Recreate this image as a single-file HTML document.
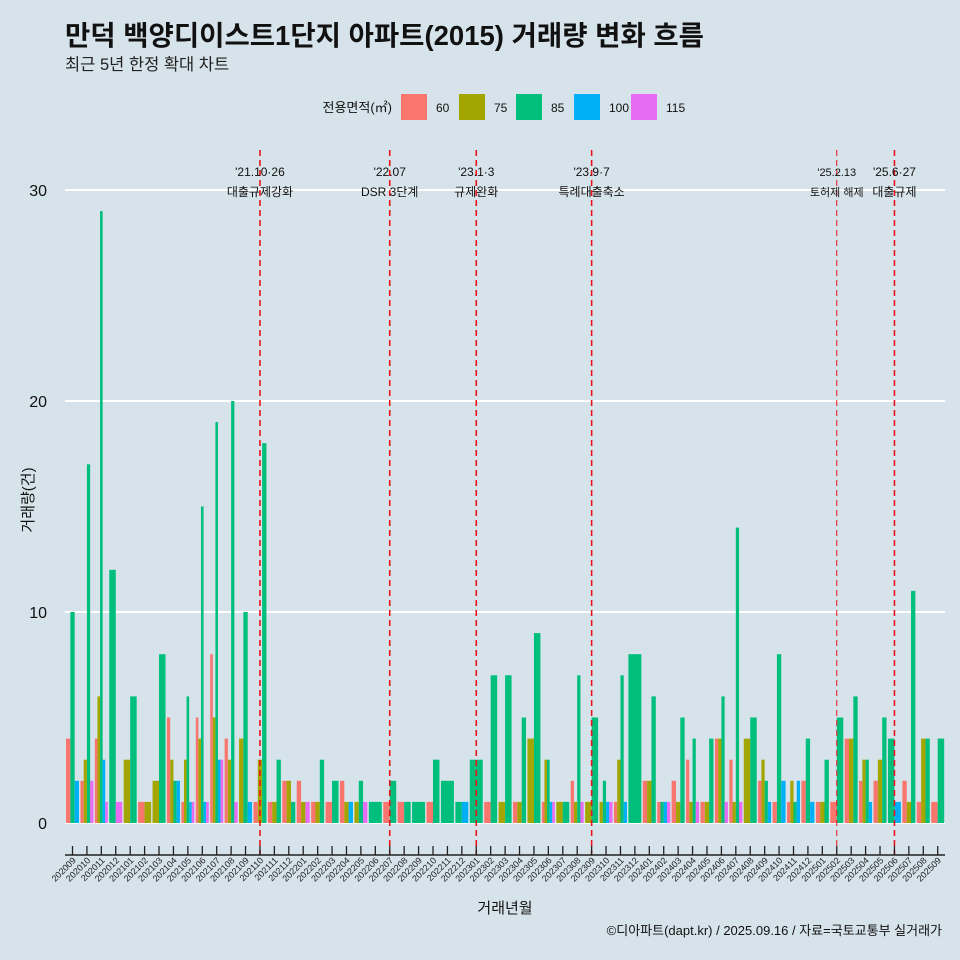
<!DOCTYPE html>
<html><head><meta charset="utf-8"><style>
html,body{margin:0;width:960px;height:960px;overflow:hidden;background:#d6e3ea;font-family:"Liberation Sans","Noto Sans CJK KR",sans-serif}
svg{display:block}
svg text{font-family:"Liberation Sans","Noto Sans CJK KR",sans-serif}
</style></head><body>
<svg width="960" height="960" xmlns="http://www.w3.org/2000/svg">
<rect width="960" height="960" fill="#d6e3ea"/>
<text x="65" y="45" font-size="27.5" font-weight="bold" fill="#111">만덕 백양디이스트1단지 아파트(2015) 거래량 변화 흐름</text>
<text x="65" y="70" font-size="16.5" fill="#222">최근 5년 한정 확대 차트</text>
<g id="legend"></g>
<g id="grid"></g><g id="bars"></g><g id="events"></g><g id="xaxis"></g><g id="yaxis"></g>
<text x="505" y="913" font-size="15" text-anchor="middle" fill="#111">거래년월</text>
<text transform="translate(33,500) rotate(-90)" font-size="15" text-anchor="middle" fill="#111">거래량(건)</text>
<text x="942" y="935" font-size="13" text-anchor="end" fill="#111">©디아파트(dapt.kr) / 2025.09.16 / 자료=국토교통부 실거래가</text>
</svg>
<script>
const months=["202009","202010","202011","202012","202101","202102","202103","202104","202105","202106","202107","202108","202109","202110","202111","202112","202201","202202","202203","202204","202205","202206","202207","202208","202209","202210","202211","202212","202301","202302","202303","202304","202305","202306","202307","202308","202309","202310","202311","202312","202401","202402","202403","202404","202405","202406","202407","202408","202409","202410","202411","202412","202501","202502","202503","202504","202505","202506","202507","202508","202509"];
const areas=["60","75","85","100","115"];
const colors=["#f8766d","#a3a500","#00bf7d","#00b0f6","#e76bf3"];
const s60 =[4,2,4,0,0,1,0,5,1,5,8,4,0,1,1,2,2,1,1,2,0,0,1,1,0,1,0,0,0,1,0,1,0,1,0,2,0,0,1,0,2,1,2,3,1,4,3,0,2,1,1,2,1,1,4,2,2,0,2,1,1];
const s75 =[0,3,6,0,3,1,2,3,3,4,5,3,4,3,1,2,1,1,0,1,1,0,0,0,0,0,0,0,0,0,1,1,4,3,1,1,1,1,3,0,2,0,1,1,1,4,1,4,3,0,2,0,1,0,4,3,3,0,1,4,0];
const s85 =[10,17,29,12,6,0,8,2,6,15,19,20,10,18,3,1,0,3,2,0,2,1,2,1,1,3,2,1,3,7,7,5,9,3,1,7,5,2,7,8,6,1,5,4,4,6,14,5,2,8,1,4,3,5,6,3,5,4,11,4,4];
const s100=[2,0,3,0,0,0,0,2,1,1,3,0,1,0,0,0,0,0,0,1,0,0,0,0,0,0,0,1,0,0,0,0,0,1,0,0,0,1,1,0,0,1,0,0,0,0,0,0,1,2,2,1,0,0,0,1,0,1,0,0,0];
const s115=[0,2,1,1,0,0,0,0,1,1,3,1,0,0,0,0,1,0,0,0,1,0,0,0,0,0,0,0,0,0,0,0,0,1,0,1,0,1,0,0,0,1,0,1,0,1,1,0,0,0,0,0,0,0,0,0,0,0,0,0,0];
const yTicks=[0,10,20,30];
const events=["202110","202207","202301","202309","202502","202506"];
const eventLine1=["'21.10·26","'22.07","'23.1·3","'23.9·7","'25.2.13","'25.6·27"];
const eventLine2=["대출규제강화","DSR 3단계","규제완화","특례대출축소","토허제 해제","대출규제"];
const NS="http://www.w3.org/2000/svg";
const X0=72.5,DX=14.42,Y0=823,PU=21.1;
const xs=i=>X0+i*DX, ys=v=>Y0-v*PU;
function mk(t,a,p){const e=document.createElementNS(NS,t);for(const k in a)e.setAttribute(k,a[k]);p.appendChild(e);return e;}
const grid=document.getElementById('grid'),yax=document.getElementById('yaxis');
yTicks.forEach(v=>{
 const l=mk('line',{x1:65,x2:945,y1:ys(v),y2:ys(v),stroke:'#fff','stroke-width':2},grid);
 
 
 const t=mk('text',{x:47,y:ys(v)+6,'font-size':16,'text-anchor':'end',fill:'#111'},yax);
 t.textContent=v;
 
 
});
const series=[s60,s75,s85,s100,s115];
const bars=document.getElementById('bars');
months.forEach((m,i)=>{
 const present=[];series.forEach((s,k)=>{if(s[i]>0)present.push(k);});
 const W=DX*0.9,bw=W/present.length;
 present.forEach((k,j)=>{
  const v=series[k][i];
  const r=mk('rect',{x:xs(i)-W/2+j*bw,y:ys(v),width:bw,height:v*PU,fill:colors[k]},bars);
  
  
 });
});
const ev=document.getElementById('events');
events.forEach((m,k)=>{
 const x=xs(months.indexOf(m));
 const thin=m==="202502";
 const l=mk('line',{x1:x,x2:x,y1:150,y2:855,stroke:'#e8141c','stroke-width':thin?1:1.6,'stroke-dasharray':'6,4'},ev);
 
 
 const fs=thin?11:12;
 const t1=mk('text',{x:x,y:176,'font-size':fs,'text-anchor':'middle',fill:'#111'},ev);t1.textContent=eventLine1[k];
 
 
 const t2=mk('text',{x:x,y:196,'font-size':fs,'text-anchor':'middle',fill:'#111'},ev);t2.textContent=eventLine2[k];
 
 
});
const xa=document.getElementById('xaxis');
const ax=mk('line',{x1:65,x2:945,y1:855,y2:855,stroke:'#222','stroke-width':1.5},xa);


months.forEach((m,i)=>{
 const x=xs(i);
 const tk=mk('line',{x1:x,x2:x,y1:846,y2:855,stroke:'#222','stroke-width':1.3},xa);
 
 
 const t=mk('text',{transform:`translate(${x+4},${861}) rotate(-45)`,'font-size':9,'text-anchor':'end',fill:'#222'},xa);
 t.textContent=m;
 
 
});
const lg=document.getElementById('legend');
const lt=mk('text',{x:392,y:112,'font-size':13,'text-anchor':'end',fill:'#111'},lg);lt.textContent="전용면적(㎡)";


const lx=[401,459,516,574,631];
areas.forEach((a,k)=>{
 const r=mk('rect',{x:lx[k],y:94,width:26,height:26,fill:colors[k]},lg);
 
 
 const t=mk('text',{x:lx[k]+35,y:112,'font-size':12,fill:'#111'},lg);t.textContent=a;
 
 
});
</script>
</body></html>
